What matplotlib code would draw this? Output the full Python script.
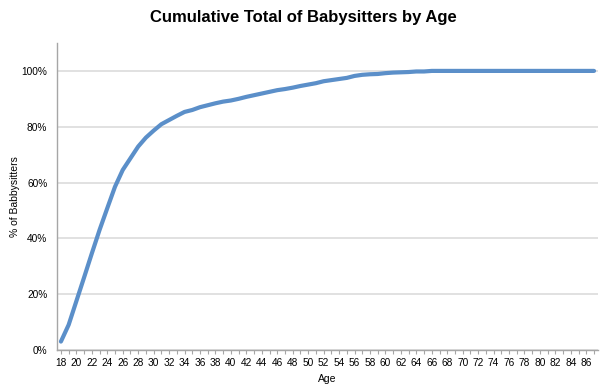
import matplotlib
matplotlib.use('Agg')
import matplotlib.pyplot as plt
from matplotlib.ticker import FixedLocator, PercentFormatter

# Data
ages = list(range(18, 88))
cumulative_pct = [
    3.0, 9.0, 17.5, 26.0, 34.6, 43.0, 50.8, 58.5, 64.5, 68.7,
    72.9, 76.1, 78.6, 80.9, 82.4, 83.9, 85.3, 86.0, 87.0, 87.7,
    88.4, 89.0, 89.4, 90.0, 90.7, 91.3, 91.9, 92.5, 93.1, 93.5,
    94.0, 94.6, 95.1, 95.6, 96.3, 96.7, 97.1, 97.5, 98.2, 98.6,
    98.8, 98.9, 99.2, 99.4, 99.5, 99.6, 99.8, 99.8, 100.0, 100.0,
    100.0, 100.0, 100.0, 100.0, 100.0, 100.0, 100.0, 100.0, 100.0, 100.0,
    100.0, 100.0, 100.0, 100.0, 100.0, 100.0, 100.0, 100.0, 100.0, 100.0,
]
label_ages = [a for a in ages if a % 2 == 0]

line_color = '#5b8fc9'
grid_color = '#dcdcdc'
axis_color = '#a6a6a6'
plt.rcParams['font.family'] = ['Liberation Sans', 'DejaVu Sans']

fig = plt.figure(figsize=(6.07, 3.91), dpi=100, facecolor='white')
ax = fig.add_axes([0.094, 0.105, 0.891, 0.785])

ax.plot(ages, [v / 100 for v in cumulative_pct], color=line_color, linewidth=3.0,
        solid_capstyle='round', zorder=3)

ax.set_xlim(ages[0] - 0.5, ages[-1] + 0.5)
ax.set_ylim(0, 1.1)

ax.yaxis.set_major_locator(FixedLocator([0, 0.2, 0.4, 0.6, 0.8, 1.0]))
ax.yaxis.set_major_formatter(PercentFormatter(1.0, decimals=0))
ax.grid(axis='y', color=grid_color, linewidth=1.2)
ax.set_axisbelow(True)

ax.xaxis.set_major_locator(FixedLocator(label_ages))
ax.xaxis.set_minor_locator(FixedLocator(ages))
ax.tick_params(axis='x', which='both', length=3, width=0.8, color=axis_color,
               labelsize=7.3, pad=3)
ax.tick_params(axis='y', length=0, labelsize=7.3, pad=7)

for side in ['top', 'right']:
    ax.spines[side].set_visible(False)
for side in ['left', 'bottom']:
    ax.spines[side].set_color(axis_color)
    ax.spines[side].set_linewidth(1.0)

ax.set_xlabel('Age', fontsize=7.5, labelpad=4)
ax.set_ylabel('% of Babbysitters', fontsize=7.5, labelpad=1)
fig.suptitle('Cumulative Total of Babysitters by Age', fontsize=12, fontweight='bold',
             x=0.5, y=0.975)

fig.savefig('out.png', dpi=100, facecolor='white')
